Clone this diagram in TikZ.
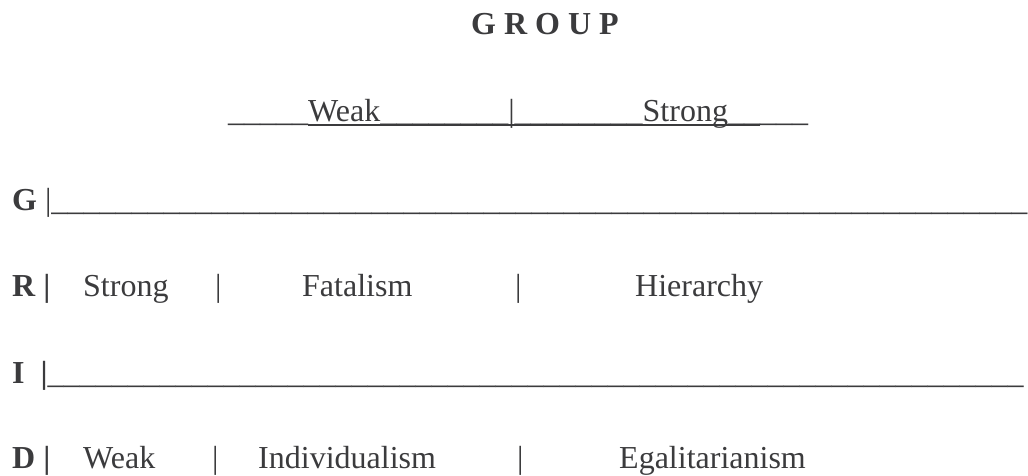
\documentclass[tikz,border=0pt]{standalone}
\usepackage{fontspec}
\setmainfont{Liberation Serif}
\usepackage{tikz}
\definecolor{Ink}{HTML}{3B3B3D}
\newcount\barcount
\newcommand\bars[1]{\barcount=#1\relax\loop\ifnum\barcount>0 \_\advance\barcount by -1 \repeat}
\newcommand\ulword[1]{\setbox0\hbox{#1}\rlap{\rule[-4.2pt]{\wd0}{2.2pt}}\box0}
\tikzset{
  cell/.style={inner sep=0pt,anchor=base west,text=Ink,font=\fontsize{32}{38}\selectfont},
  key/.style={cell,font=\fontsize{32}{38}\selectfont\bfseries}
}
\begin{document}
\begin{tikzpicture}[x=1pt,y=-1pt]
  \useasboundingbox (0,0) rectangle (1028,476);
  \node[key,anchor=base] (group) at (545,35) {G R O U P};
  \node[cell] (scale) at (228,122) {\bars{5}\ulword{Weak\bars{8}|\bars{8}Strong\bars{2}}\bars{3}};
  % grid rows
  \node[cell] (gline) at (12,210) {\textbf{G} |\bars{61}};
  \node[key] (rkey) at (12,296) {R |};
  \node[cell] (strong) at (83,296) {Strong};
  \node[cell] (rsep1) at (215,296) {|};
  \node[cell] (fatalism) at (302,296) {Fatalism};
  \node[cell] (rsep2) at (515,296) {|};
  \node[cell] (hierarchy) at (635,296) {Hierarchy};
  \node[key] (iline) at (12,383) {I\ \ |\mdseries\bars{61}};
  \node[key] (dkey) at (12,468) {D |};
  \node[cell] (weak) at (83,468) {Weak};
  \node[cell] (dsep1) at (212,468) {|};
  \node[cell] (indiv) at (258,468) {Individualism};
  \node[cell] (dsep2) at (517,468) {|};
  \node[cell] (egal) at (619,468) {Egalitarianism};
\end{tikzpicture}
\end{document}
